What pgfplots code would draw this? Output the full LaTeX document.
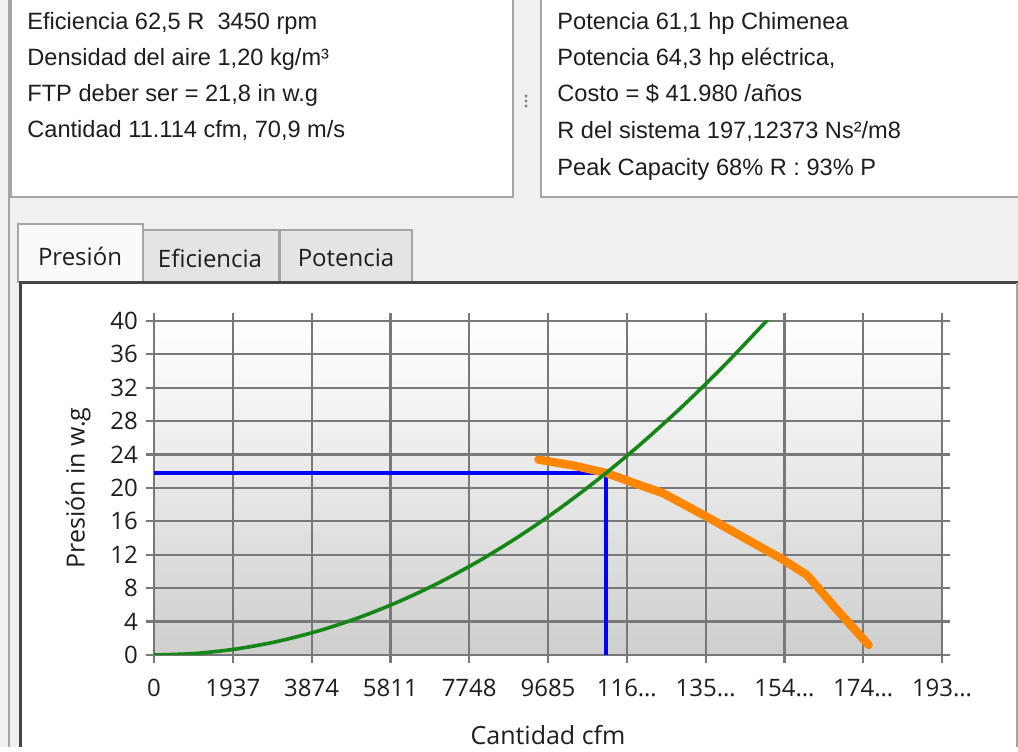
\documentclass[border=0pt]{standalone}
\usepackage{fontspec}
\setmainfont{Liberation Sans}
\newfontfamily\ui{Open Sans}
\usepackage{pgfplots}
\pgfplotsset{compat=1.18}
\definecolor{winbg}{RGB}{240,240,240}
\definecolor{gridc}{RGB}{120,120,120}
\definecolor{fanor}{RGB}{255,135,0}
\definecolor{sysgr}{RGB}{22,135,22}
\definecolor{bord}{RGB}{165,165,165}
\definecolor{darkb}{RGB}{70,70,70}
\definecolor{tabin}{RGB}{228,228,228}
\definecolor{txt}{RGB}{30,30,30}
\begin{document}
\begin{tikzpicture}
\begin{scope}[shift={(0,373.5pt)}, x=0.5pt, y=-0.5pt]
  \path[use as bounding box] (0,0) rectangle (1018,747);
  \fill[winbg] (0,0) rectangle (1018,747);
  \draw[bord, line width=1pt] (9,0) -- (9,747);
  % top panels
  \fill[white] (11,0) rectangle (513,196);
  \draw[bord, line width=1.2pt] (11,0) -- (11,197) -- (513,197) -- (513,0);
  \fill[white] (541,0) rectangle (1018,196);
  \draw[bord, line width=1.2pt] (541,0) -- (541,197) -- (1018,197);
  \foreach \yy in {96,101,106} \fill[gray] (526,\yy) circle (1.6);
  % texts
  \begin{scope}[every node/.style={anchor=base west, inner sep=0pt, font=\fontsize{11.8}{13}\selectfont, text=txt}]
    \node at (27,30) {Eficiencia 62,5 R\ \ 3450 rpm};
    \node at (27,66) {Densidad del aire 1,20 kg/m³};
    \node at (27,102) {FTP deber ser = 21,8 in w.g};
    \node at (27,138) {Cantidad 11.114 cfm, 70,9 m/s};
    \node at (557,30) {Potencia 61,1 hp Chimenea};
    \node at (557,66) {Potencia 64,3 hp eléctrica,};
    \node at (557,102) {Costo = \$ 41.980 /años};
    \node at (557,139) {R del sistema 197,12373 Ns²/m8};
    \node at (557,176) {Peak Capacity 68\% R : 93\% P};
  \end{scope}
  % tabs
  \fill[tabin] (143,230) rectangle (412,283);
  \draw[bord, line width=1pt] (143,283) -- (143,230) -- (279,230) -- (279,283);
  \draw[bord, line width=1pt] (280,283) -- (280,230) -- (412,230) -- (412,283);
  \fill[white!96!gray] (18,224) rectangle (143,283);
  \draw[bord, line width=1pt] (18,283) -- (18,224) -- (143,224) -- (143,283);
  \begin{scope}[every node/.style={anchor=center, inner sep=0pt, font=\ui\fontsize{12}{14}\selectfont, text=txt}]
    \node at (80,256) {Presión};
    \node at (210,258) {Eficiencia};
    \node at (346,258) {Potencia};
  \end{scope}
  % content panel
  \fill[white] (20,283) rectangle (1018,747);
  \draw[darkb, line width=1.5pt] (20,747) -- (20,283) -- (1018,283);
  \draw[bord, line width=1pt] (1016.5,283) -- (1016.5,747);
\end{scope}
\begin{axis}[
  at={(77pt,46pt)}, anchor=south west,
  scale only axis, width=394pt, height=167pt,
  xmin=0, xmax=19370, ymin=0, ymax=40,
  xtick={0,1937,3874,5811,7748,9685,11622,13559,15496,17433,19370},
  xticklabels={0,1937,3874,5811,7748,9685,116…,135…,154…,174…,193…},
  ytick={0,4,8,12,16,20,24,28,32,36,40},
  scaled x ticks=false,
  grid=major,
  grid style={gridc, line width=1.1pt},
  axis line style={gridc, line width=1.1pt},
  tick style={gridc, line width=1.1pt},
  tick align=outside, major tick length=4pt,
  axis background/.style={top color=white, bottom color=gray!38},
  /pgf/number format/assume math mode=true,
  ticklabel style={font=\ui\fontsize{12}{14}\selectfont, text=txt},
  xticklabel style={yshift=-4.5pt},
  yticklabel style={xshift=-0.5pt},
  xlabel={Cantidad cfm}, ylabel={Presión in w.g},
  label style={font=\ui\fontsize{12.5}{14}\selectfont, text=txt},
  xlabel style={at={(axis description cs:0.5,-0.24)}, anchor=center},
  ylabel style={at={(axis description cs:-0.0965,0.5)}, anchor=center},
]
\addplot[blue, line width=1.7pt] coordinates {(0,21.8) (11114,21.8) (11114,0)};
\addplot[fanor, line width=4.2pt, line cap=round, line join=round] coordinates {
  (9450,23.4) (10300,22.7) (11114,21.8) (11623,20.9) (12524,19.35)
  (13590,16.55) (14737,13.4) (15400,11.6) (16055,9.57) (16790,5.4) (17566,1.2)};
\addplot[sysgr, line width=1.8pt, smooth] coordinates {
  (0,0) (1000,0.177) (2000,0.706) (3000,1.588) (4000,2.824) (5000,4.412)
  (6000,6.354) (7000,8.648) (8000,11.295) (9000,14.296) (10000,17.649)
  (11000,21.355) (12000,25.414) (13000,29.827) (14000,34.592) (15000,39.710) (15055,40)};
\end{axis}
\end{tikzpicture}
\end{document}
